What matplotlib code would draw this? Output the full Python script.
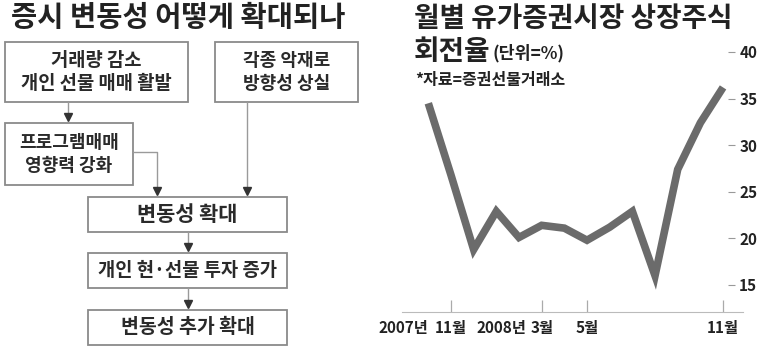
import matplotlib
matplotlib.use('Agg')
import matplotlib.pyplot as plt
from matplotlib.patches import Rectangle

plt.rcParams['font.family'] = ['Noto Sans CJK KR', 'DejaVu Sans']

# monthly turnover rate of listed stocks, Oct 2007 .. Nov 2008 (%)
months = ['2007-10', '2007-11', '2007-12', '2008-01', '2008-02', '2008-03', '2008-04',
          '2008-05', '2008-06', '2008-07', '2008-08', '2008-09', '2008-10', '2008-11']
turnover = [34.5, 26.8, 18.8, 22.9, 20.1, 21.4, 21.1, 19.8, 21.2, 22.9, 16.0, 27.4, 32.4, 36.2]
tick_idx = [1, 5, 7, 13]
tick_labels = ['11월', '3월', '5월', '11월']
year_idx = [1, 5]
year_labels = ['2007년', '2008년']
y_ticks = [15, 20, 25, 30, 35, 40]

# flowchart texts
left_title = '증시 변동성 어떻게 확대되나'
box_texts = ['거래량 감소\n개인 선물 매매 활발', '각종 악재로\n방향성 상실',
             '프로그램매매\n영향력 강화', '변동성 확대',
             '개인 현·선물 투자 증가', '변동성 추가 확대']

W, H = 767, 347
fig = plt.figure(figsize=(W / 100, H / 100), dpi=100)

# ---- flowchart (pixel coordinates) ----
ov = fig.add_axes([0, 0, 1, 1])
ov.set_xlim(0, W)
ov.set_ylim(H, 0)
ov.axis('off')

box_pos = [(5, 42, 183, 60), (215, 42, 143, 60), (5, 123, 128, 62),
           (88, 197, 199, 35), (88, 253, 199, 35), (88, 310, 199, 35)]
box_fs = [13.5, 13, 13, 15, 13.5, 14]
for (x, y, w, h), txt, fs in zip(box_pos, box_texts, box_fs):
    ov.add_patch(Rectangle((x, y), w, h, facecolor='white', edgecolor='#8a8a8a', lw=1.3))
    ov.text(x + w / 2, y + h / 2, txt, ha='center', va='center', fontsize=fs,
            fontweight='bold', color='#2a2a2a', linespacing=1.25)

lc = '#9a9a9a'
ac = '#333333'
links = [([68, 68], [102, 117]),
         ([133, 157, 157], [152, 152, 191]),
         ([247, 247], [102, 191]),
         ([188, 188], [232, 247]),
         ([188, 188], [288, 304])]
for xs, ys in links:
    ov.plot(xs, ys, color=lc, lw=1)
    ov.plot(xs[-1], ys[-1], marker='v', ms=6, color=ac, mec=ac)

ov.text(11, 18, left_title, ha='left', va='center', fontsize=20.5, fontweight='bold', color='#222222')

# ---- right titles ----
ov.text(414, 19, '월별 유가증권시장 상장주식', ha='left', va='center', fontsize=20,
        fontweight='bold', color='#222222')
ov.text(414, 52, '회전율', ha='left', va='center', fontsize=20, fontweight='bold', color='#222222')
ov.text(493, 53, '(단위=%)', ha='left', va='center', fontsize=12.5, fontweight='bold', color='#222222')
ov.text(415, 80, '*자료=증권선물거래소', ha='left', va='center', fontsize=11.5, fontweight='bold',
        color='#222222')

# ---- line chart ----
ax = fig.add_axes([402 / W, 1 - 312 / H, (743 - 402) / W, (312 - 52) / H])
ax.patch.set_alpha(0)
ax.plot(range(len(turnover)), turnover, color='#6b6b6b', lw=5.5,
        solid_joinstyle='miter', solid_capstyle='butt', clip_on=False)
ax.set_xlim(-1.16, 13.88)
ax.set_ylim(12.1, 40)

for s in ['left', 'top']:
    ax.spines[s].set_visible(False)
ax.spines['bottom'].set_color('#bbbbbb')
ax.spines['right'].set_position(('data', 13.22))
ax.spines['right'].set_color('none')

ax.set_xticks(tick_idx)
ax.set_xticklabels(tick_labels, fontweight='bold')
ax.tick_params(axis='x', direction='in', length=8.5, width=0.9, color='#aaaaaa',
               labelsize=11, pad=6, labelcolor='#222222')
ax.yaxis.tick_right()
ax.set_yticks(y_ticks)
ax.set_yticklabels([str(v) for v in y_ticks], fontweight='bold')
ax.tick_params(axis='y', length=5, width=0.8, color='#999999', labelsize=11, pad=3,
               labelcolor='#222222')

year_offsets = [-16.5, -11]
for i, lab, dx in zip(year_idx, year_labels, year_offsets):
    ax.annotate(lab, xy=(i, 0), xycoords=('data', 'axes fraction'), xytext=(dx, -6),
                textcoords='offset points', ha='right', va='top', fontsize=11,
                fontweight='bold', color='#222222')

fig.savefig('out.png', dpi=100)
